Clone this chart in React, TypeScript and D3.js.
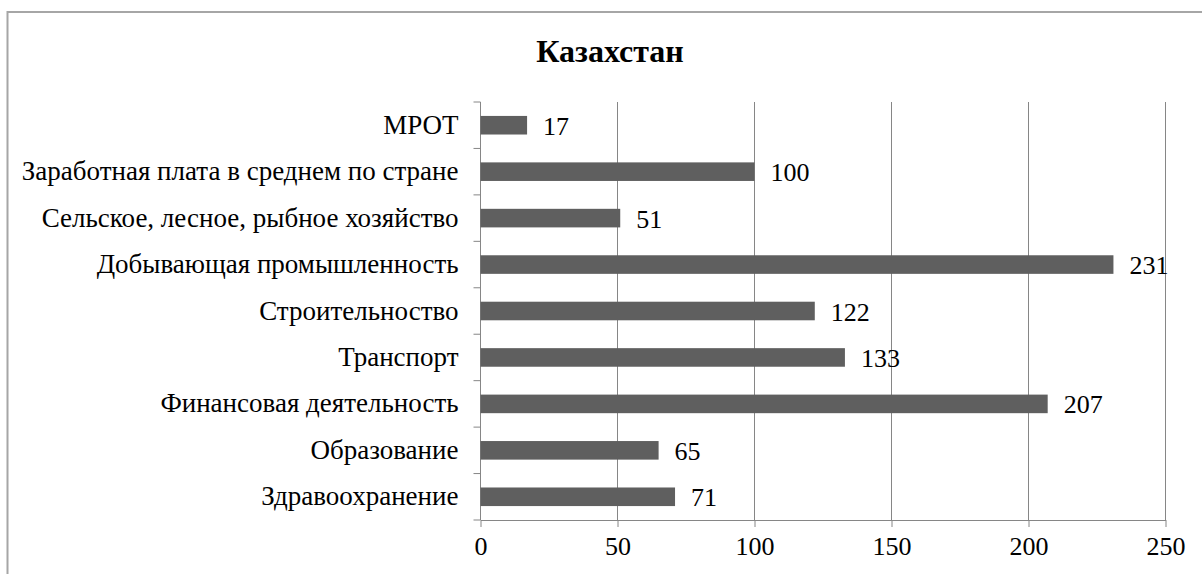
import React, { useRef, useEffect } from "react";
import * as d3 from "d3";

const categories = [
  "МРОТ",
  "Заработная плата в среднем по стране",
  "Сельское, лесное, рыбное хозяйство",
  "Добывающая промышленность",
  "Строительноство",
  "Транспорт",
  "Финансовая деятельность",
  "Образование",
  "Здравоохранение",
];
const values = [17, 100, 51, 231, 122, 133, 207, 65, 71];
const xTicks = [0, 50, 100, 150, 200, 250];
const title = "Казахстан";

const App = () => {
  const svgRef = useRef<SVGSVGElement>(null);

  useEffect(() => {
    const width = 1202;
    const height = 574;
    const marginTop = 102;
    const marginLeft = 480.5;
    const marginRight = 36.5;
    const marginBottom = 54;
    const font = "'Times New Roman', 'Liberation Serif', 'DejaVu Serif', serif";

    const svg = d3.select(svgRef.current);
    svg.selectAll("*").remove();

    const data = categories.map((c, i) => ({ name: c, value: values[i] }));

    const x = d3.scaleLinear().domain([0, 250]).range([marginLeft, width - marginRight]);
    const y = d3
      .scaleBand()
      .domain(categories)
      .range([marginTop, height - marginBottom])
      .paddingInner(0.6)
      .paddingOuter(0.3);

    // chart border (right and bottom edges fall outside the picture)
    svg.append("rect")
      .attr("x", 7.5).attr("y", 12)
      .attr("width", width + 20).attr("height", height + 20)
      .attr("fill", "none")
      .attr("stroke", "#a6a6a6")
      .attr("stroke-width", 2);

    svg.append("text")
      .attr("x", 610).attr("y", 62)
      .attr("text-anchor", "middle")
      .style("font-family", font)
      .style("font-size", "32px")
      .style("font-weight", "bold")
      .text(title);

    const bottom = height - marginBottom;

    // gridlines
    svg.append("g")
      .selectAll("line")
      .data(xTicks.slice(1))
      .join("line")
      .attr("x1", (d) => x(d)).attr("x2", (d) => x(d))
      .attr("y1", marginTop).attr("y2", bottom)
      .attr("stroke", "#868686").attr("stroke-width", 1);

    // x axis
    const xAxis = svg.append("g")
      .attr("transform", `translate(0,${bottom})`)
      .call(d3.axisBottom(x).tickValues(xTicks).tickSize(7).tickPadding(10).tickSizeOuter(0));
    xAxis.attr("font-family", null).attr("font-size", null);
    xAxis.select(".domain").attr("stroke", "#868686");
    xAxis.selectAll(".tick line").attr("stroke", "#868686");
    xAxis.selectAll("text")
      .attr("fill", "#000")
      .style("font-family", font)
      .style("font-size", "26px");

    // y axis: line + ticks at band boundaries
    svg.append("line")
      .attr("x1", marginLeft).attr("x2", marginLeft)
      .attr("y1", marginTop).attr("y2", bottom)
      .attr("stroke", "#868686");
    const step = y.step();
    const bounds = d3.range(categories.length + 1).map((i) => marginTop + i * step);
    svg.append("g")
      .selectAll("line")
      .data(bounds)
      .join("line")
      .attr("x1", marginLeft - 7).attr("x2", marginLeft)
      .attr("y1", (d) => d).attr("y2", (d) => d)
      .attr("stroke", "#868686");

    svg.append("g")
      .selectAll("text")
      .data(data)
      .join("text")
      .attr("x", marginLeft - 22)
      .attr("y", (d) => y(d.name)! + y.bandwidth() / 2 + 8.5)
      .attr("text-anchor", "end")
      .style("font-family", font)
      .style("font-size", "27px")
      .text((d) => d.name);

    // bars
    svg.append("g")
      .selectAll("rect")
      .data(data)
      .join("rect")
      .attr("x", x(0))
      .attr("y", (d) => y(d.name)!)
      .attr("width", (d) => x(d.value) - x(0))
      .attr("height", y.bandwidth())
      .attr("fill", "#5f5f5f");

    svg.append("g")
      .selectAll("text")
      .data(data)
      .join("text")
      .attr("x", (d) => x(d.value) + 16)
      .attr("y", (d) => y(d.name)! + y.bandwidth() / 2 + 9.5)
      .style("font-family", font)
      .style("font-size", "26px")
      .text((d) => d.value);
  }, []);

  return (
    <svg
      ref={svgRef}
      width={1202}
      height={574}
      style={{ position: "absolute", left: 0, top: 0, background: "#fff" }}
    />
  );
};

export default App;
